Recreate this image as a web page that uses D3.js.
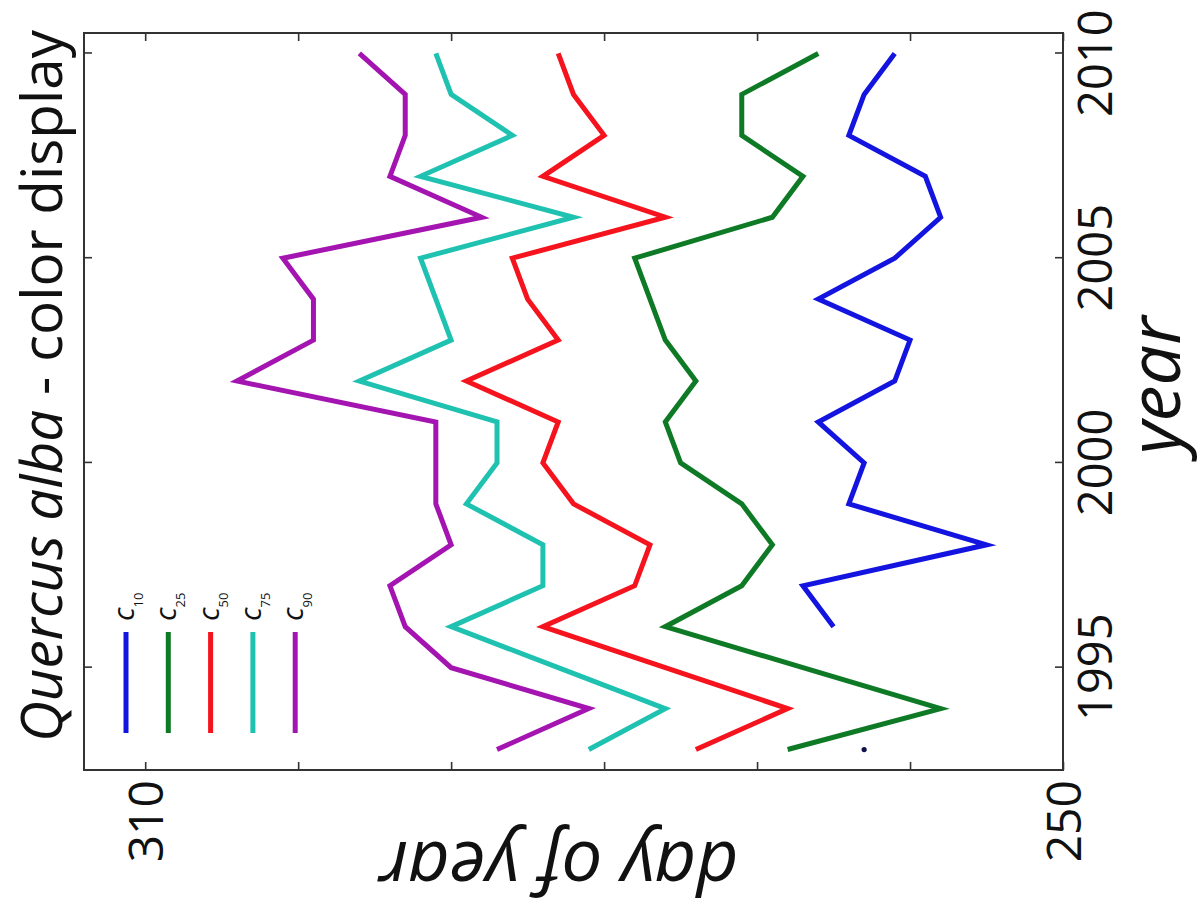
<!DOCTYPE html>
<html>
<head>
<meta charset="utf-8">
<script src="https://cdn.jsdelivr.net/npm/d3@7"></script>
<style>
  html, body { margin: 0; padding: 0; background: #fff; }
  svg { display: block; }
  text { font-family: "Open Sans", "DejaVu Sans", sans-serif; fill: #111; }
</style>
</head>
<body>
<svg id="chart" width="1204" height="921"></svg>
<script>
// Autumn colour-display dates (day of year) of Quercus alba, by percentile
const years = [1993, 1994, 1995, 1996, 1997, 1998, 1999, 2000, 2001,
               2002, 2003, 2004, 2005, 2006, 2007, 2008, 2009, 2010];
const c10 = [263, null, null, 265, 267, 255, 264, 263, 266, 261, 260, 266, 261, 258, 259, 264, 263, 261];
const c25 = [268, 258, 267, 276, 271, 269, 271, 275, 276, 274, 276, 277, 278, 269, 267, 271, 271, 266];
const c50 = [274, 268, 276, 284, 278, 277, 282, 284, 283, 289, 283, 285, 286, 276, 284, 280, 282, 283];
const c75 = [281, 276, 283, 290, 284, 284, 289, 287, 287, 296, 290, 291, 292, 282, 292, 286, 290, 291];
const c90 = [287, 281, 290, 293, 294, 290, 291, 291, 291, 304, 299, 299, 301, 288, 294, 293, 293, 296];

const seriesNames = ["10", "25", "50", "75", "90"];
const seriesValues = [c10, c25, c50, c75, c90];
const seriesColors = ["#1414e0", "#0f7a26", "#f5141e", "#1fc2b0", "#a414b0"];

const yearTicks = [1995, 2000, 2005, 2010];
const dayTicks = [250, 260, 270, 280, 290, 300, 310];
const dayLabels = [250, 310];

const svg = d3.select("#chart");
svg.append("rect").attr("width", 1204).attr("height", 921).attr("fill", "#fff");

// The figure is laid out sideways: years run up the page, days run right-to-left.
const W = 737, H = 979;
const g = svg.append("g").attr("transform", "translate(84,770) rotate(-90)");

const x = d3.scaleLinear().domain([1992.5, 2010.5]).range([0, W]);
const y = d3.scaleLinear().domain([250, 314]).range([H, 0]);

// Axes with inward ticks on all four sides
const axB = g.append("g").attr("transform", `translate(0,${H})`)
  .call(d3.axisBottom(x).tickValues(yearTicks).tickSizeInner(-8).tickSizeOuter(0).tickFormat(d3.format("d")));
axB.selectAll("text").attr("y", 49).attr("dy", 0)
  .style("font-size", "47px").style("fill", "#111");
// keep the end label inside the page edge
axB.selectAll("text").filter(d => d === yearTicks[yearTicks.length - 1])
  .attr("text-anchor", "end").attr("x", 760 - x(yearTicks[yearTicks.length - 1]));

g.append("g")
  .call(d3.axisTop(x).tickValues(yearTicks).tickSizeInner(-8).tickSizeOuter(0).tickFormat(""));

const axL = g.append("g")
  .call(d3.axisLeft(y).tickValues(dayTicks).tickSizeInner(-8).tickSizeOuter(0)
    .tickFormat(d => dayLabels.includes(d) ? d3.format("d")(d) : ""));
axL.selectAll("text").attr("x", -10).attr("dy", "0.36em")
  .style("font-size", "48px").style("fill", "#111");

g.append("g").attr("transform", `translate(${W},0)`)
  .call(d3.axisRight(y).tickValues(dayTicks).tickSizeInner(-8).tickSizeOuter(0).tickFormat(""));

g.selectAll(".domain").remove();
g.selectAll(".tick line").attr("stroke", "#333").attr("stroke-width", 1.6);

// Percentile lines
const line = d3.line()
  .defined(d => d.v != null)
  .x(d => x(d.year))
  .y(d => y(d.v));

seriesValues.forEach((vals, i) => {
  const pts = years.map((yr, j) => ({ year: yr, v: vals[j] }));
  g.append("path")
    .datum(pts)
    .attr("d", line)
    .attr("fill", "none")
    .attr("stroke", seriesColors[i])
    .attr("stroke-width", 5)
    .attr("stroke-linejoin", "miter")
    .attr("stroke-miterlimit", 4);
  // isolated observations with no neighbour to connect to
  const lone = pts.filter((p, j) => p.v != null &&
    (j === 0 || pts[j - 1].v == null) && (j === pts.length - 1 || pts[j + 1].v == null));
  g.selectAll(null).data(lone).enter().append("circle")
    .attr("cx", d => x(d.year)).attr("cy", d => y(d.v))
    .attr("r", 2.6).attr("fill", "#10104a");
});

// Frame
g.append("rect").attr("x", 0).attr("y", 0).attr("width", W).attr("height", H)
  .attr("fill", "none").attr("stroke", "#333").attr("stroke-width", 2);

// Legend
const leg = g.append("g");
seriesNames.forEach((name, i) => {
  const ly = 42 + i * 42.3;
  leg.append("line").attr("x1", 37).attr("x2", 138).attr("y1", ly).attr("y2", ly)
    .attr("stroke", seriesColors[i]).attr("stroke-width", 5);
  const t = leg.append("text").attr("x", 149).attr("y", ly + 8);
  t.append("tspan").style("font-size", "30px").style("font-style", "italic").text("c");
  t.append("tspan").attr("dy", 9).style("font-size", "13px").text(name);
});

// Axis titles
g.append("text").attr("x", W / 2 + 16).attr("y", H + 117)
  .attr("text-anchor", "middle")
  .style("font-size", "72px").style("font-style", "italic")
  .text("year");

g.append("text").attr("transform", `translate(-72,${475}) rotate(-90)`)
  .attr("text-anchor", "middle")
  .style("font-size", "73px").style("font-style", "italic")
  .text("day of year");

// Title
const title = g.append("text").attr("x", 28).attr("y", -22)
  .style("font-size", "46px");
title.append("tspan").style("font-style", "italic").text("Quercus alba");
title.append("tspan").text(" - color display");
const len = title.node().getComputedTextLength();
title.style("font-size", (46 * 712 / len).toFixed(2) + "px");
</script>
</body>
</html>
